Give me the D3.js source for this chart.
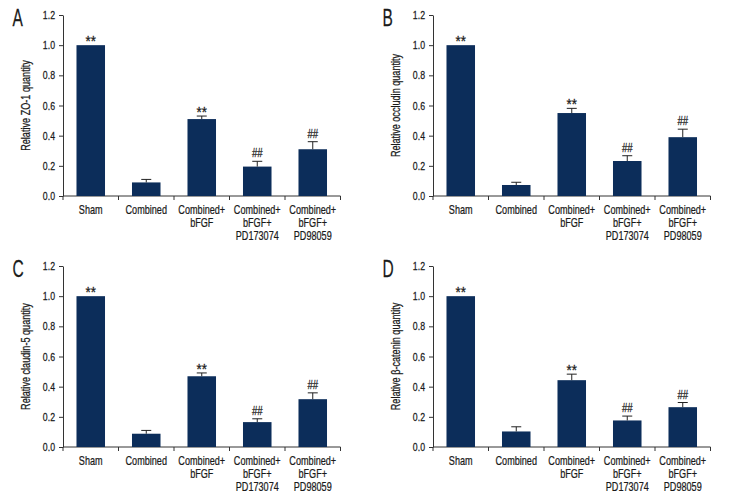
<!DOCTYPE html>
<html><head><meta charset="utf-8">
<script src="https://cdnjs.cloudflare.com/ajax/libs/d3/7.8.5/d3.min.js"></script>
<style>
body{margin:0;background:#fff;}
svg text{font-family:"Liberation Sans",Arial,sans-serif;fill:#1a1a1a;stroke:#1a1a1a;stroke-width:0.25;}
</style></head>
<body><svg id="c" width="732" height="504"></svg>
<script>
const categories = [["Sham"],["Combined"],["Combined+","bFGF"],["Combined+","bFGF+","PD173074"],["Combined+","bFGF+","PD98059"]];
const yTicks = [0,0.2,0.4,0.6,0.8,1.0,1.2];
const marks = ["**","","**","##","##"];
const panelLetters = ["A","B","C","D"];
const yTitles = ["Relative ZO-1 quantity","Relative occludin quantity","Relative claudin-5 quantity","Relative β-catenin quantity"];
const valuesA = [1.0, 0.09, 0.51, 0.195, 0.31];
const errorsA = [0, 0.02, 0.02, 0.035, 0.05];
const valuesB = [1.0, 0.073, 0.55, 0.232, 0.39];
const errorsB = [0, 0.018, 0.031, 0.035, 0.053];
const valuesC = [1.0, 0.088, 0.469, 0.165, 0.317];
const errorsC = [0, 0.022, 0.022, 0.022, 0.042];
const valuesD = [1.0, 0.103, 0.443, 0.176, 0.264];
const errorsD = [0, 0.031, 0.04, 0.029, 0.031];

const allValues = [valuesA, valuesB, valuesC, valuesD];
const allErrors = [errorsA, errorsB, errorsC, errorsD];
const offsets = [[0,0],[370,0],[0,251],[370,251]];
const barColor = "#0c2d5a";
const ink = "#333";

const svg = d3.select("#c");
const idx = d3.range(categories.length);

// condensed text helper: lines drawn in a horizontally squeezed group
function ctext(parent, x, y, lines, size, sx, anchor, lineH, rotate) {
  const grp = parent.append("g")
    .attr("transform", `translate(${x},${y})` + (rotate ? ` rotate(${rotate})` : "") + ` scale(${sx},1)`);
  const t = grp.append("text").attr("text-anchor", anchor).attr("font-size", size);
  lines.forEach((line, i) => t.append("tspan").attr("x", 0).attr("y", i * (lineH || 0)).text(line));
  return grp;
}

panelLetters.forEach((letter, p) => {
  const [ox, oy] = offsets[p];
  const g = svg.append("g").attr("transform", `translate(${ox},${oy})`);
  const x = d3.scaleBand().domain(idx).range([63, 340.5]).paddingInner(0.486).paddingOuter(0.243);
  const y = d3.scaleLinear().domain([0, 1.2]).range([196, 15]);
  const vals = allValues[p], errs = allErrors[p];

  // y axis
  const ya = g.append("g").attr("transform", "translate(63,0)")
    .call(d3.axisLeft(y).tickValues(yTicks).tickFormat("").tickSize(4).tickSizeOuter(0));
  ya.select(".domain").attr("stroke", ink);
  ya.selectAll(".tick line").attr("stroke", ink);
  yTicks.forEach(v => ctext(g, 55, y(v) + 4, [d3.format(".1f")(v)], 11.5, 0.76, "end"));

  // x axis line and ticks at band boundaries
  const step = x.step();
  const x0 = x.range()[0];
  g.append("line").attr("x1", x0).attr("x2", x.range()[1]).attr("y1", y(0)).attr("y2", y(0)).attr("stroke", ink);
  g.selectAll(".xt").data(d3.range(categories.length + 1)).join("line")
    .attr("x1", d => x0 + d * step).attr("x2", d => x0 + d * step)
    .attr("y1", y(0)).attr("y2", y(0) + 4).attr("stroke", ink);

  // bars
  g.selectAll(".bar").data(idx).join("rect")
    .attr("x", d => x(d)).attr("width", x.bandwidth())
    .attr("y", d => y(vals[d])).attr("height", d => y(0) - y(vals[d]))
    .attr("fill", barColor);

  // error bars (upper only)
  idx.filter(d => errs[d] > 0).forEach(d => {
    const cx = x(d) + x.bandwidth() / 2;
    g.append("line").attr("x1", cx).attr("x2", cx).attr("y1", y(vals[d])).attr("y2", y(vals[d] + errs[d])).attr("stroke", "#222");
    g.append("line").attr("x1", cx - 5).attr("x2", cx + 5).attr("y1", y(vals[d] + errs[d])).attr("y2", y(vals[d] + errs[d])).attr("stroke", "#222");
  });

  // significance marks
  idx.filter(d => marks[d]).forEach(d => {
    const cx = x(d) + x.bandwidth() / 2;
    const top = y(vals[d] + errs[d]);
    if (marks[d] === "**") ctext(g, cx, top + 1, ["**"], 14, 0.95, "middle");
    else ctext(g, cx, top - 4, ["##"], 12, 0.8, "middle");
  });

  // category labels
  idx.forEach(d => {
    const cx = x(d) + x.bandwidth() / 2;
    ctext(g, cx, 213.7, categories[d], 13, 0.7, "middle", 13.3);
  });

  // y title
  ctext(g, 30, (y(0) + y(1.2)) / 2, [yTitles[p]], 12, 0.76, "middle", 0, -90);

  // panel letter
  ctext(g, 12.5, 26, [letter], 23.5, 0.66, "start");
});
</script></body></html>
